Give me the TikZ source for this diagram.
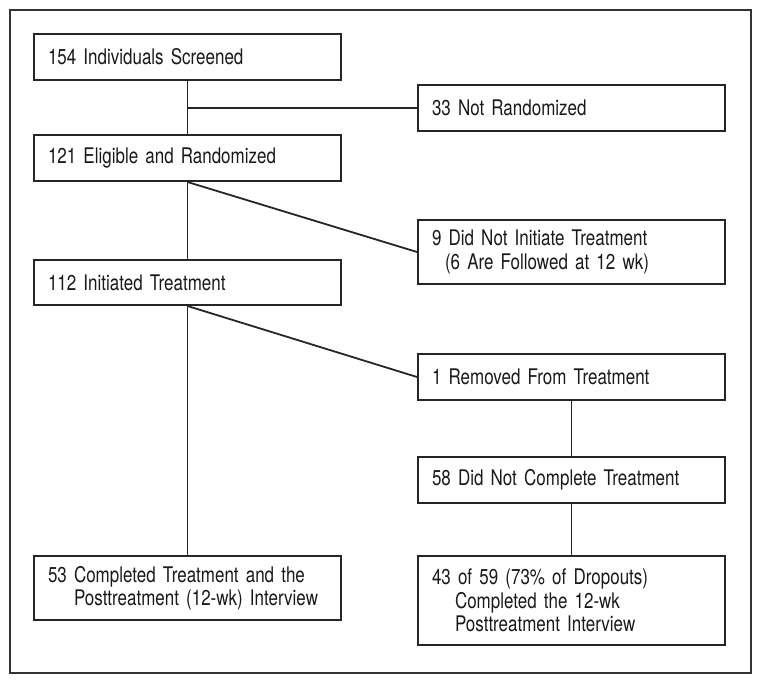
\documentclass[tikz,border=0pt]{standalone}
\usepackage{fontspec}
\setmainfont{TeX Gyre Heros}[FakeStretch=0.79]
\usepackage{tikz}

\begin{document}
\begin{tikzpicture}[x=1pt, y=-1pt,
    box/.style={draw=black!85, line width=2pt, anchor=north west,
        text width=279pt, inner xsep=14pt, align=left, text=black!90,
        font=\fontsize{21.5}{23.5}\selectfont},
    link/.style={draw=black!85, line width=1.8pt}]
    \useasboundingbox (0,0) rectangle (762,684);
    \draw[black!80, line width=2pt] (10,10) rectangle (751,673);

    % left column
    \node[box, minimum height=46pt] (scr) at (33,33) {154 Individuals Screened};
    \node[box, minimum height=46pt] (rnd) at (33,134) {121 Eligible and Randomized};
    \node[box, minimum height=45pt] (init) at (33,259) {112 Initiated Treatment};
    \node[box, minimum height=64pt] (done) at (33,555)
        {53 Completed Treatment and the\\\hspace*{26pt}Posttreatment (12-wk) Interview};

    % right column
    \node[box, minimum height=46pt] (notr) at (417,84) {33 Not Randomized};
    \node[box, minimum height=64pt] (noinit) at (417,219)
        {9 Did Not Initiate Treatment\\\hspace*{13pt}(6 Are Followed at 12 wk)};
    \node[box, minimum height=46pt] (rem) at (417,353) {1 Removed From Treatment};
    \node[box, minimum height=46pt] (drop) at (417,456) {58 Did Not Complete Treatment};
    \node[box, minimum height=89pt] (fol) at (417,555)
        {43 of 59 (73\% of Dropouts)\\\hspace*{23pt}Completed the 12-wk\\\hspace*{23pt}Posttreatment Interview};

    % connectors
    \draw[link] (scr.south) -- (rnd.north);
    \draw[link] (scr.south |- notr.west) -- (notr.west);
    \draw[link] (rnd.south) -- (init.north);
    \draw[link] (rnd.south) -- (noinit.west);
    \draw[link] (init.south) -- (done.north);
    \draw[link] (init.south) -- (rem.west);
    \draw[link] (rem.south) -- (drop.north);
    \draw[link] (drop.south) -- (fol.north);
\end{tikzpicture}
\end{document}
